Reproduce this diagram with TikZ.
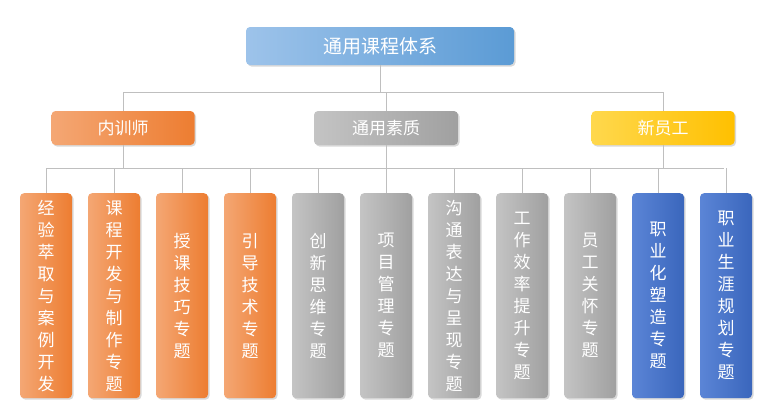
\documentclass[tikz,border=0pt]{standalone}
\usepackage{fontspec}
\newfontfamily\cjk{Noto Sans CJK SC}
\usetikzlibrary{shadows}
\definecolor{ln}{HTML}{BFBFBF}
\tikzset{
 box/.style={rounded corners=4pt, drop shadow={shadow xshift=1.5pt,shadow yshift=-1.5pt,opacity=.3}, text=white, font=\cjk\fontsize{17}{22}\selectfont, inner sep=0pt, align=center},
 og/.style={left color=orange!50!white!90!orange, right color=orange, shading angle=90},
 leaf/.style={box, minimum width=52pt, minimum height=205pt, anchor=north},
 con/.style={draw=ln, line width=1pt}
}
\definecolor{o1}{HTML}{F4A774}\definecolor{o2}{HTML}{ED7D31}
\definecolor{g1}{HTML}{C4C4C4}\definecolor{g2}{HTML}{A0A0A0}
\definecolor{b1}{HTML}{5B85D6}\definecolor{b2}{HTML}{3A66BC}
\definecolor{t1}{HTML}{9DC3EA}\definecolor{t2}{HTML}{5B9BD5}
\definecolor{y1}{HTML}{FFD84D}\definecolor{y2}{HTML}{FFC000}
\tikzset{
 O/.style={left color=o1,right color=o2},
 G/.style={left color=g1,right color=g2},
 B/.style={left color=b1,right color=b2},
}
\begin{document}
\begin{tikzpicture}[x=1pt,y=-1pt]
\useasboundingbox (0,0) rectangle (760,407);
\node[box, left color=t1, right color=t2, minimum width=268pt, minimum height=38pt, font=\cjk\fontsize{19}{22}\selectfont] (top) at (380,46) {通用课程体系};
\node[box,O,minimum width=143pt,minimum height=34pt] (m1) at (123,128) {内训师};
\node[box,G,minimum width=144pt,minimum height=34pt] (m2) at (386,128) {通用素质};
\node[box,left color=y1,right color=y2,minimum width=143pt,minimum height=34pt] (m3) at (663,128) {新员工};
\coordinate (h1) at (123,92); \coordinate (h3) at (663,92); \coordinate (hc) at (380,92);
\draw[con] (top) -- (hc); \draw[con] (h1) -- (h3);
\draw[con] (h1) -- (m1); \draw[con] (h3) -- (m3); \draw[con] (386,92) -- (m2);
\coordinate (l1) at (46,168); \coordinate (l2) at (724,168);
\draw[con] (l1) -- (l2);
\draw[con] (123,145) -- (123,168); \draw[con] (386,145) -- (386,168); \draw[con] (663,145) -- (663,168);
\foreach \i/\s/\t in {0/O/经\\验\\萃\\取\\与\\案\\例\\开\\发, 1/O/课\\程\\开\\发\\与\\制\\作\\专\\题, 2/O/授\\课\\技\\巧\\专\\题, 3/O/引\\导\\技\\术\\专\\题, 4/G/创\\新\\思\\维\\专\\题, 5/G/项\\目\\管\\理\\专\\题, 6/G/沟\\通\\表\\达\\与\\呈\\现\\专\\题, 7/G/工\\作\\效\\率\\提\\升\\专\\题, 8/G/员\\工\\关\\怀\\专\\题, 9/B/职\\业\\化\\塑\\造\\专\\题, 10/B/职\\业\\生\\涯\\规\\划\\专\\题}{
 \node[leaf,\s] (n\i) at ({46+68*\i},193) {\t};
 \draw[con] ({46+68*\i},168) -- (n\i.north);
}
\end{tikzpicture}
\end{document}
